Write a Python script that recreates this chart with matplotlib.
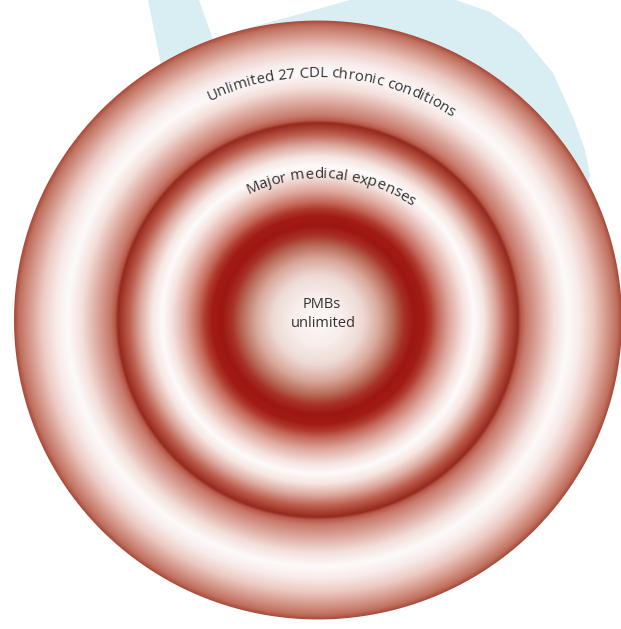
import numpy as np
import matplotlib
matplotlib.use("Agg")
import matplotlib.pyplot as plt
from matplotlib.colors import to_rgb
from matplotlib.font_manager import FontProperties, findfont, get_font
from matplotlib.ft2font import LOAD_NO_HINTING

# ---------------- data ----------------
W, H = 621, 629
ring_center = (318, 320)
ring_scale = (1.0, 0.985)          # slight horizontal stretch of the artwork
ring_radii = [304, 201, 117]       # outer, middle, inner disc

ring_labels = ["Unlimited 27 CDL chronic conditions", "Major medical expenses"]
center_labels = ["PMBs", "unlimited"]

# radial colour profile (radius in px -> colour)
profile_r = [0, 25, 45, 62, 76, 86, 96, 106, 113, 120, 132, 146, 156, 166, 178, 189, 196, 200, 203,
             208, 220, 236, 250, 262, 276, 290, 299, 304]
profile_c = ["#fcf8f6", "#f8eeeb", "#eedad5", "#d8a89b", "#b86a58", "#a83228", "#9e1612", "#a21c16",
             "#b03a2e", "#c56a5c", "#e0aaa0", "#f5e3df", "#fdfbfa", "#f6e6e2", "#dca89d", "#bc5e4e",
             "#a63c30", "#952a20", "#b85a4a", "#c87a6c", "#dba59b", "#f3dfda", "#fdfafa", "#f8ecea",
             "#eccac3", "#d39486", "#c0705f", "#a84838"]

# light-blue background letter shape (outer outline and the white counter)
bg_x = [148, 456, 490, 520, 553, 573, 585, 590, 580, 420, 260, 148]
bg_y = [0, 0, 12, 33, 73, 117, 150, 175, 240, 520, 560, 0]
hole_x = [199, 350, 300, 240, 214]
hole_y = [0, 0, 14, 30, 42]

# ---------------- figure ----------------
fig = plt.figure(figsize=(W / 100, H / 100), dpi=100)
ax = fig.add_axes([0, 0, 1, 1])
ax.set_xlim(0, W)
ax.set_ylim(H, 0)
ax.axis("off")

ax.fill(bg_x, bg_y, color="#d9eef2", lw=0, zorder=1)
ax.fill(hole_x, hole_y, color="white", lw=0, zorder=2)

yy, xx = np.mgrid[0:H, 0:W] + 0.5
r = np.hypot((xx - ring_center[0]) / ring_scale[0], (yy - ring_center[1]) / ring_scale[1])
cols = np.array([to_rgb(c) for c in profile_c])
img = np.zeros((H, W, 4))
for k in range(3):
    img[..., k] = np.interp(r, profile_r, cols[:, k])
img[..., 3] = np.clip(ring_radii[0] - r + 0.5, 0, 1)
ax.imshow(img, extent=(0, W, H, 0), origin="upper", interpolation="bilinear", zorder=3)


def arc_text(s, cx, cy, rad, center_deg, size, color="#333333"):
    prop = FontProperties(family="Open Sans", size=size)
    font = get_font(findfont(prop))
    font.set_size(size, 100)
    adv = []
    for ch in s:
        g = font.load_char(ord(ch), flags=LOAD_NO_HINTING)
        adv.append(g.linearHoriAdvance / 65536)
    total = sum(adv)
    pos = -total / 2
    for ch, a in zip(s, adv):
        sc = pos + a / 2
        th = np.deg2rad(center_deg) + sc / rad
        x = cx + rad * np.sin(th)
        y = cy - rad * np.cos(th)
        ax.text(x, y, ch, fontproperties=prop, color=color, rotation=-np.rad2deg(th),
                rotation_mode="anchor", ha="center", va="baseline", zorder=5)
        pos += a


arc_text(ring_labels[0], 316, 327, 250, 3.8, 10.8)
arc_text(ring_labels[1], 320, 343, 165, 4.0, 11)

ax.text(322, 308, center_labels[0], family="Open Sans", fontsize=10.5, color="#333333",
        ha="center", va="baseline", zorder=5)
ax.text(323, 327, center_labels[1], family="Open Sans", fontsize=10.5, color="#333333",
        ha="center", va="baseline", zorder=5)

fig.savefig("out.png", dpi=100)
